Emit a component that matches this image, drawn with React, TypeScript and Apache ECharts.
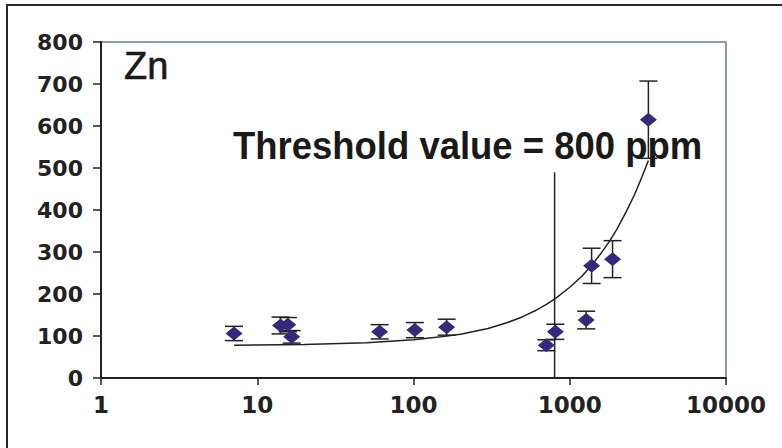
import React, { useEffect, useRef } from "react";
import * as echarts from "echarts";

// Zn concentration measurements (x on log scale) with ± error
const sampleX = [7.1, 14.1, 15.7, 16.6, 60.7, 102, 163, 708, 809, 1274, 1380, 1879, 3186];
const sampleY = [106, 125, 127, 98, 110, 114, 121, 78, 110, 138, 267, 283, 615];
const sampleErr = [17, 20, 17, 15, 17, 18, 19, 13, 18, 21, 42, 44, 92];

// Trend curve samples
const trendX = [7.1, 20, 50, 100, 150, 200, 300, 400, 500, 600, 700, 800, 1000, 1200, 1400, 1600, 1800, 2000, 2300, 2600, 2900, 3186];
const trendY = [78, 80, 84, 91, 98, 104, 118, 132, 146, 160, 174, 188, 216, 243, 271, 299, 326, 354, 396, 437, 479, 518];

// Threshold marker
const thresholdX = 800;
const thresholdTop = 490;

// Axis ranges
const yTicks = { min: 0, max: 800, interval: 100 };
const xRange = { min: 1, max: 10000 };

const INK = "#222222";
const MARK = "#36287a";

export default function App() {
  const ref = useRef<HTMLDivElement>(null);

  useEffect(() => {
    if (!ref.current) return;
    const chart = echarts.init(ref.current, null, { renderer: "svg" });

    const points = sampleX.map((x, i) => [x, sampleY[i]]);
    const bars = sampleX.map((x, i) => [x, sampleY[i], sampleY[i] - sampleErr[i], sampleY[i] + sampleErr[i]]);
    const trend = trendX.map((x, i) => [x, trendY[i]]);

    chart.setOption({
      animation: false,
      backgroundColor: "#ffffff",
      grid: {
        left: 101,
        right: 56,
        top: 42,
        bottom: 70,
        show: true,
        borderColor: "#8e9ca8",
        borderWidth: 2,
        backgroundColor: "transparent",
      },
      xAxis: {
        type: "log",
        logBase: 10,
        min: xRange.min,
        max: xRange.max,
        axisLine: { show: true, onZero: false, lineStyle: { color: INK, width: 2 } },
        axisTick: { show: true, inside: false, length: 7, lineStyle: { color: INK, width: 1.5 } },
        minorTick: { show: false },
        splitLine: { show: false },
        axisLabel: {
          color: INK,
          fontFamily: "DejaVu Sans",
          fontWeight: "bold",
          fontSize: 23,
          margin: 15,
          formatter: (v: number) => String(Math.round(v)),
        },
        z: 5,
      },
      yAxis: {
        type: "value",
        min: yTicks.min,
        max: yTicks.max,
        interval: yTicks.interval,
        axisLine: { show: true, lineStyle: { color: INK, width: 2 } },
        axisTick: { show: true, inside: false, length: 8, lineStyle: { color: INK, width: 1.5 } },
        splitLine: { show: false },
        axisLabel: {
          color: INK,
          fontFamily: "DejaVu Sans",
          fontWeight: "bold",
          fontSize: 22,
          margin: 18,
        },
        z: 5,
      },
      graphic: [
        {
          type: "rect",
          shape: { x: 7, y: 5, width: 820, height: 500 },
          style: { fill: "none", stroke: "#2a2a2a", lineWidth: 2 },
          silent: true,
        },
        {
          type: "text",
          x: 124,
          y: 66,
          style: {
            text: "Zn",
            font: "38px 'Liberation Sans', Arial, sans-serif",
            fill: "#1a1a1a",
            stroke: "#1a1a1a",
            lineWidth: 0.6,
            verticalAlign: "middle",
          },
        },
        {
          type: "text",
          x: 233,
          y: 146,
          scaleX: 0.96,
          z: 10,
          style: {
            text: "Threshold value = 800 ppm",
            font: "bold 38px 'Liberation Sans', Arial, sans-serif",
            fill: "#1a1a1a",
            verticalAlign: "middle",
          },
        },
      ],
      series: [
        {
          name: "trend",
          type: "line",
          data: trend,
          symbol: "none",
          lineStyle: { color: INK, width: 1.5 },
          z: 2,
        },
        {
          name: "threshold",
          type: "line",
          data: [
            [thresholdX, 0],
            [thresholdX, thresholdTop],
          ],
          symbol: "none",
          lineStyle: { color: INK, width: 1.5 },
          z: 2,
        },
        {
          name: "error",
          type: "custom",
          data: bars,
          encode: { x: 0, y: 1 },
          z: 3,
          renderItem: (params: any, api: any) => {
            const x = api.value(0);
            const lo = api.value(2);
            const hi = api.value(3);
            const top = api.coord([x, hi]);
            const bot = api.coord([x, lo]);
            const hw = 9;
            const style = { stroke: INK, lineWidth: 1.5 };
            return {
              type: "group",
              children: [
                { type: "line", shape: { x1: top[0], y1: top[1], x2: bot[0], y2: bot[1] }, style },
                { type: "line", shape: { x1: top[0] - hw, y1: top[1], x2: top[0] + hw, y2: top[1] }, style },
                { type: "line", shape: { x1: bot[0] - hw, y1: bot[1], x2: bot[0] + hw, y2: bot[1] }, style },
              ],
            };
          },
        },
        {
          name: "Zn",
          type: "scatter",
          data: points,
          symbol: "diamond",
          symbolSize: [17, 14],
          itemStyle: { color: MARK, opacity: 1 },
          z: 4,
        },
      ],
    });

    return () => chart.dispose();
  }, []);

  return (
    <div
      ref={ref}
      style={{ position: "fixed", left: 0, top: 0, width: 782, height: 448 }}
    />
  );
}
